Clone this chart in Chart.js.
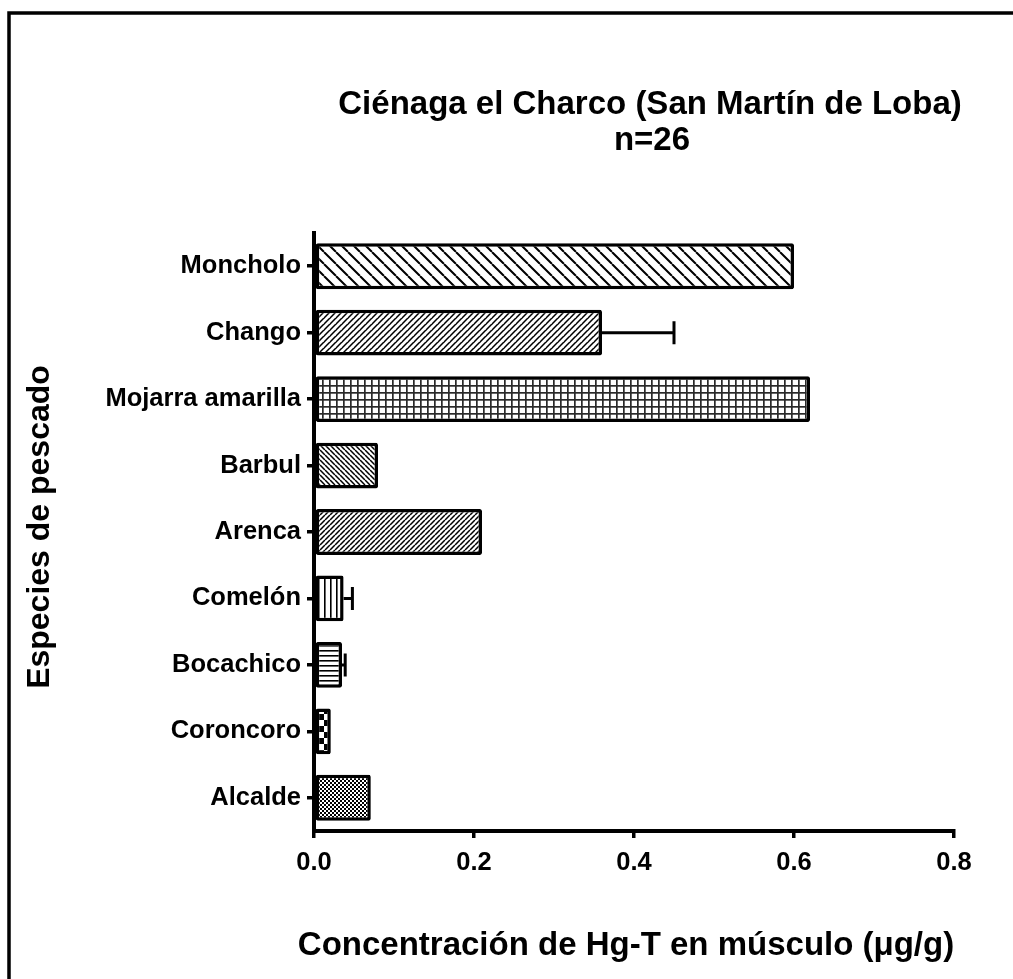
<!DOCTYPE html>
<html>
<head>
<meta charset="utf-8">
<script src="https://cdn.jsdelivr.net/npm/chart.js@4.4.1/dist/chart.umd.min.js"></script>
<style>
  html, body { margin: 0; padding: 0; background: #fff; }
  #wrap { width: 1013px; height: 979px; position: relative; }
</style>
</head>
<body>
<div id="wrap"><canvas id="c" width="1013" height="979"></canvas></div>
<script>
// ---- data ----
const categories = ['Moncholo', 'Chango', 'Mojarra amarilla', 'Barbul', 'Arenca', 'Comelón', 'Bocachico', 'Coroncoro', 'Alcalde'];
const meanValues = [0.600, 0.360, 0.620, 0.080, 0.210, 0.037, 0.035, 0.021, 0.071];
const errorValues = [0, 0.090, 0, 0, 0, 0.011, 0.004, 0, 0];
const xTickValues = [0.0, 0.2, 0.4, 0.6, 0.8];
const titleLines = ['Ciénaga el Charco (San Martín de Loba)', 'n=26'];
const xTitle = 'Concentración de Hg-T en músculo (μg/g)';
const yTitle = 'Especies de pescado';

const FONT = "'Liberation Sans', Arial, Helvetica, sans-serif";

// ---- fill patterns ----
function makeTile(w, h, draw) {
  const c = document.createElement('canvas');
  c.width = w; c.height = h;
  const g = c.getContext('2d');
  g.fillStyle = '#fff'; g.fillRect(0, 0, w, h);
  g.strokeStyle = '#000'; g.fillStyle = '#000';
  draw(g, w, h);
  return document.createElement('canvas').getContext('2d').createPattern(c, 'repeat');
}
function backslash(p, lw) {
  return makeTile(p, p, (g) => {
    g.lineWidth = lw; g.beginPath();
    for (let k = -1; k <= 1; k++) { g.moveTo(k * p, 0); g.lineTo(k * p + p, p); }
    g.stroke();
  });
}
function slash(p, lw) {
  return makeTile(p, p, (g) => {
    g.lineWidth = lw; g.beginPath();
    for (let k = -1; k <= 1; k++) { g.moveTo(k * p, p); g.lineTo(k * p + p, 0); }
    g.stroke();
  });
}
const patterns = [
  backslash(12, 2),                      // Moncholo
  makeTile(6, 6, (g) => {                // Chango: dense / with faint texture
    g.lineWidth = 1.5; g.beginPath();
    for (let k = -1; k <= 1; k++) { g.moveTo(k * 6, 6); g.lineTo(k * 6 + 6, 0); }
    g.stroke();
    g.fillStyle = '#666'; g.fillRect(0, 0, 1, 1);
  }),
  makeTile(7, 7, (g) => {                // Mojarra amarilla: grid
    g.fillStyle = '#2a2a2a';
    g.fillRect(0, 0, 1.7, 7); g.fillRect(0, 0, 7, 1.7);
  }),
  backslash(5, 1.5),                     // Barbul
  slash(5, 1.5),                         // Arenca
  makeTile(6.5, 10, (g) => {             // Comelón: vertical lines
    g.fillRect(0, 0, 1.6, 10);
  }),
  makeTile(10, 5, (g) => {               // Bocachico: horizontal lines
    g.fillRect(0, 0, 10, 1.6);
  }),
  makeTile(12, 12, (g) => {              // Coroncoro: checkerboard
    g.fillRect(0, 0, 6, 6); g.fillRect(6, 6, 6, 6);
  }),
  makeTile(4, 4, (g) => {                // Alcalde: fine checker
    g.fillRect(0, 0, 2, 2); g.fillRect(2, 2, 2, 2);
  })
];

// ---- plugins ----
const framePlugin = {
  id: 'frame',
  beforeDraw(chart) {
    const ctx = chart.ctx;
    ctx.save();
    ctx.fillStyle = '#fff';
    ctx.fillRect(0, 0, chart.width, chart.height);
    ctx.strokeStyle = '#000';
    ctx.lineWidth = 3.5;
    ctx.strokeRect(9, 13, 1200, 1200);
    ctx.restore();
  }
};

const errorBarPlugin = {
  id: 'errorBars',
  afterDatasetsDraw(chart) {
    const ctx = chart.ctx;
    const xs = chart.scales.x, ys = chart.scales.y;
    ctx.save();
    ctx.strokeStyle = '#000';
    ctx.lineWidth = 3;
    ctx.lineCap = 'butt';
    errorValues.forEach((e, i) => {
      if (!e) return;
      const y = ys.getPixelForValue(i);
      const x0 = xs.getPixelForValue(meanValues[i]);
      const x1 = xs.getPixelForValue(meanValues[i] + e);
      ctx.beginPath();
      ctx.moveTo(x0, y); ctx.lineTo(x1, y);
      ctx.moveTo(x1, y - 11.5); ctx.lineTo(x1, y + 11.5);
      ctx.stroke();
    });
    ctx.restore();
  }
};

const textPlugin = {
  id: 'texts',
  afterDraw(chart) {
    const ctx = chart.ctx;
    ctx.save();
    ctx.fillStyle = '#000';
    ctx.textAlign = 'center';
    ctx.textBaseline = 'middle';
    ctx.font = 'bold 33px ' + FONT;
    ctx.fillText(titleLines[0], 650, 105);
    ctx.fillText(titleLines[1], 652, 141);
    ctx.fillText(xTitle, 626, 946);
    ctx.font = 'bold 32px ' + FONT;
    ctx.translate(40, 527);
    ctx.rotate(-Math.PI / 2);
    ctx.fillText(yTitle, 0, 0);
    ctx.restore();
  }
};

// ---- chart ----
Chart.defaults.font.family = FONT;
Chart.defaults.color = '#000';

new Chart(document.getElementById('c'), {
  type: 'bar',
  data: {
    labels: categories,
    datasets: [{
      data: meanValues,
      backgroundColor: patterns,
      borderColor: '#000',
      borderWidth: 3.5,
      borderSkipped: false,
      borderRadius: 2,
      categoryPercentage: 1,
      barPercentage: 0.69
    }]
  },
  options: {
    indexAxis: 'y',
    responsive: false,
    animation: false,
    devicePixelRatio: 1,
    layout: { padding: { top: 233, right: 59, left: 0, bottom: 0 } },
    plugins: {
      legend: { display: false },
      tooltip: { enabled: false },
      title: { display: false }
    },
    scales: {
      y: {
        type: 'category',
        offset: true,
        grid: { display: true, drawOnChartArea: false, drawTicks: true, tickLength: 7, lineWidth: 3.5, color: '#000', offset: false },
        border: { display: true, color: '#000', width: 4 },
        ticks: { font: { size: 25.5, weight: 'bold' }, color: '#000', padding: 6 },
        afterFit(scale) { scale.width = 314; }
      },
      x: {
        type: 'linear',
        min: 0,
        max: 0.8,
        afterBuildTicks(scale) { scale.ticks = xTickValues.map(v => ({ value: v })); },
        grid: { display: true, drawOnChartArea: false, drawTicks: true, tickLength: 7, lineWidth: 3.5, color: '#000' },
        border: { display: true, color: '#000', width: 4 },
        ticks: { font: { size: 25.5, weight: 'bold' }, color: '#000', padding: 10, maxRotation: 0,
          callback: (v) => Number(v).toFixed(1) },
        afterFit(scale) { scale.height = 979 - 831; }
      }
    }
  },
  plugins: [framePlugin, errorBarPlugin, textPlugin]
});
</script>
</body>
</html>
